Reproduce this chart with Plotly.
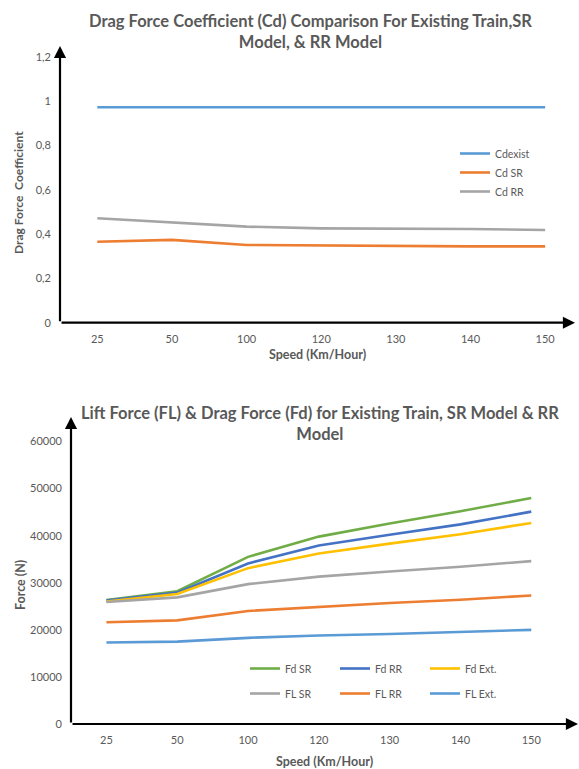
import plotly.graph_objects as go

W, H = 579, 769

# Speed categories (Km/Hour)
speeds = ["25", "50", "100", "120", "130", "140", "150"]

# Drag force coefficients
cd_exist = [0.973, 0.973, 0.973, 0.973, 0.973, 0.973, 0.973]
cd_sr = [0.366, 0.374, 0.351, 0.348, 0.348, 0.345, 0.345]
cd_rr = [0.472, 0.454, 0.434, 0.426, 0.426, 0.423, 0.419]

# Drag and lift forces (N)
fd_sr = [26300, 28200, 35500, 39800, 42600, 45200, 48000]
fd_rr = [26200, 27900, 34100, 37900, 40200, 42400, 45100]
fd_ext = [26000, 27600, 33100, 36200, 38300, 40300, 42700]
fl_sr = [25900, 26900, 29700, 31300, 32400, 33400, 34600]
fl_rr = [21600, 22000, 24000, 24900, 25700, 26400, 27300]
fl_ext = [17300, 17500, 18300, 18800, 19100, 19500, 20000]

cd_tick_vals = [0, 0.2, 0.4, 0.6, 0.8, 1.0, 1.2]
cd_tick_text = ["0", "0,2", "0,4", "0,6", "0,8", "1", "1,2"]
force_tick_vals = [0, 10000, 20000, 30000, 40000, 50000, 60000]
force_tick_text = ["0", "10000", "20000", "30000", "40000", "50000", "60000"]

BLUE = "#5B9BD5"
ORANGE = "#ED7D31"
GRAY = "#A5A5A5"
YELLOW = "#FFC000"
DBLUE = "#4472C4"
GREEN = "#70AD47"
TXT = "#595959"
FONT = "Lato"


def px(x):
    return x / W


def py(y):
    return 1 - y / H


# plot-area corners in pixels
T_L, T_R, T_B, T_T = 60, 575, 322.7, 46
B_L, B_R, B_B, B_T = 71, 578, 724, 417

fig = go.Figure()

lw = 2.6
for name, vals, col in [("Cdexist", cd_exist, BLUE), ("Cd SR", cd_sr, ORANGE), ("Cd RR", cd_rr, GRAY)]:
    fig.add_trace(go.Scatter(x=speeds, y=vals, name=name, mode="lines",
                             line=dict(color=col, width=lw),
                             xaxis="x", yaxis="y", legend="legend"))

for name, vals, col, lg in [("Fd SR", fd_sr, GREEN, "legend2"), ("Fd RR", fd_rr, DBLUE, "legend2"),
                            ("Fd Ext.", fd_ext, YELLOW, "legend2"), ("FL SR", fl_sr, GRAY, "legend3"),
                            ("FL RR", fl_rr, ORANGE, "legend3"), ("FL Ext.", fl_ext, BLUE, "legend3")]:
    fig.add_trace(go.Scatter(x=speeds, y=vals, name=name, mode="lines",
                             line=dict(color=col, width=lw),
                             xaxis="x2", yaxis="y2", legend=lg))

tick_font = dict(family=FONT, size=11, color=TXT)
title_font = dict(family=FONT, size=12.5, color=TXT, weight="bold")

fig.update_layout(
    width=W, height=H,
    margin=dict(l=0, r=0, t=0, b=0, autoexpand=False),
    paper_bgcolor="white", plot_bgcolor="white",
    xaxis=dict(domain=[px(T_L), px(T_R)], anchor="y", type="category",
               range=[-0.5, 6.4], showgrid=False, zeroline=False, showline=False,
               ticks="", tickfont=tick_font, automargin=False, ticklabelstandoff=8,
               title=dict(text="Speed (Km/Hour)", font=title_font, standoff=6)),
    yaxis=dict(domain=[py(T_B), py(T_T)], anchor="x", range=[0, 1.25],
               tickvals=cd_tick_vals, ticktext=cd_tick_text,
               showgrid=False, zeroline=False, showline=False, ticks="",
               tickfont=tick_font, ticklabelstandoff=8, automargin=False),
    xaxis2=dict(domain=[px(B_L), px(B_R)], anchor="y2", type="category",
                range=[-0.5, 6.66], showgrid=False, zeroline=False, showline=False,
                ticks="", tickfont=tick_font, automargin=False, ticklabelstandoff=8,
                title=dict(text="Speed (Km/Hour)", font=title_font, standoff=12)),
    yaxis2=dict(domain=[py(B_B), py(B_T)], anchor="x2", range=[0, 65200],
                tickvals=force_tick_vals, ticktext=force_tick_text,
                showgrid=False, zeroline=False, showline=False, ticks="",
                tickfont=tick_font, ticklabelstandoff=8, automargin=False),
    legend=dict(x=px(455), y=py(139), xanchor="left", yanchor="top",
                orientation="v", bgcolor="rgba(0,0,0,0)", itemwidth=30,
                font=dict(family=FONT, size=10.5, color=TXT), tracegroupgap=0),
    legend2=dict(x=px(245), y=py(654), xanchor="left", yanchor="top",
                 orientation="h", bgcolor="rgba(0,0,0,0)", itemwidth=30,
                 entrywidth=45, entrywidthmode="pixels",
                 font=dict(family=FONT, size=10.5, color=TXT)),
    legend3=dict(x=px(245), y=py(679), xanchor="left", yanchor="top",
                 orientation="h", bgcolor="rgba(0,0,0,0)", itemwidth=30,
                 entrywidth=45, entrywidthmode="pixels",
                 font=dict(family=FONT, size=10.5, color=TXT)),
    showlegend=True,
)

ann = []
# chart titles
title_style = dict(family=FONT, size=16.5, color=TXT, weight="bold")
ann.append(dict(text="Drag Force Coefficient (Cd) Comparison For Existing Train,SR<br>Model, & RR Model",
                x=px(310), y=py(32), xref="paper", yref="paper", xanchor="center", yanchor="middle",
                showarrow=False, font=title_style, align="center"))
ann.append(dict(text="Lift Force (FL) & Drag Force (Fd) for Existing Train, SR Model & RR<br>Model",
                x=px(320), y=py(424), xref="paper", yref="paper", xanchor="center", yanchor="middle",
                showarrow=False, font=title_style, align="center"))

# y-axis titles
ann.append(dict(text="Drag Force  Coefficient", x=px(18), y=py(193), xref="paper", yref="paper",
                xanchor="center", yanchor="middle", textangle=-90, showarrow=False,
                font=dict(family=FONT, size=12, color=TXT, weight="bold")))
ann.append(dict(text="Force (N)", x=px(20), y=py(585), xref="paper", yref="paper",
                xanchor="center", yanchor="middle", textangle=-90, showarrow=False,
                font=title_font))


# axis lines with arrowheads
def arrow(tip_x, tip_y, ax, ay):
    return dict(x=px(tip_x), y=py(tip_y), xref="paper", yref="paper", text="",
                showarrow=True, arrowhead=2, arrowsize=1.1, arrowwidth=2.2,
                arrowcolor="black", ax=ax, ay=ay, standoff=0, startstandoff=0)


ann.append(arrow(T_L, T_T, 0, T_B - T_T))
ann.append(arrow(T_R, T_B, -(T_R - T_L), 0))
ann.append(arrow(B_L, B_T, 0, B_B - B_T))
ann.append(arrow(B_R, B_B, -(B_R - B_L), 0))

fig.update_layout(annotations=ann)

fig.write_html("out.html")
